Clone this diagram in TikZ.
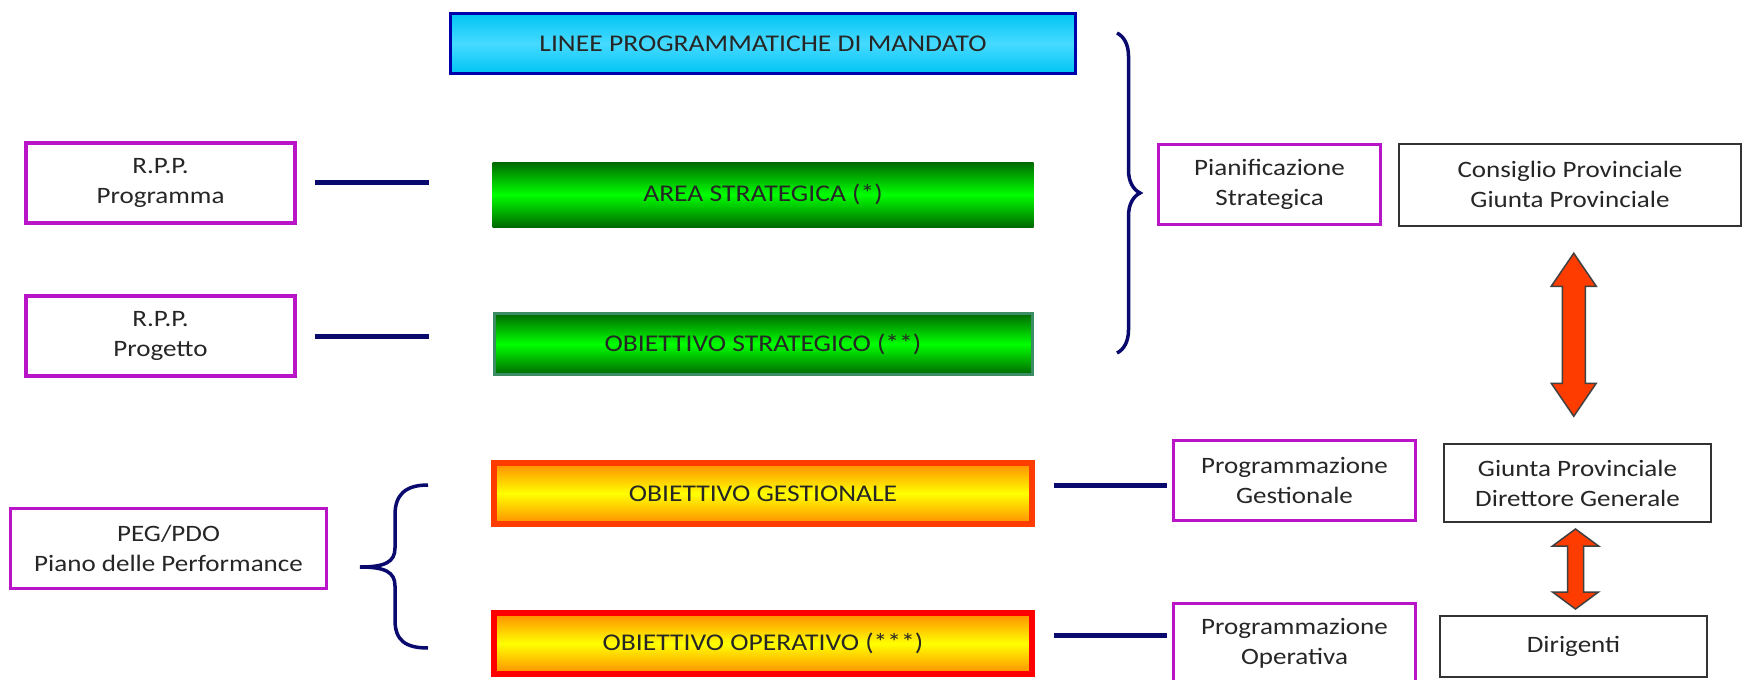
\documentclass[tikz,border=0pt]{standalone}
\usepackage{fontspec}
\setmainfont{Carlito}[FakeStretch=1.15]
\usetikzlibrary{positioning,calc,decorations.pathreplacing}

\definecolor{magbox}{RGB}{185,20,200}
\definecolor{navyline}{RGB}{10,10,110}
\definecolor{cyandark}{RGB}{0,196,245}
\definecolor{cyanlight}{RGB}{70,218,255}
\definecolor{bluebord}{RGB}{0,0,170}
\definecolor{grdark}{RGB}{0,105,0}
\definecolor{grlight}{RGB}{0,255,0}
\definecolor{tealbord}{RGB}{60,140,100}
\definecolor{ordark}{RGB}{255,140,0}
\definecolor{orlight}{RGB}{255,255,0}
\definecolor{orbord}{RGB}{255,60,0}
\definecolor{arrred}{RGB}{255,60,0}

\tikzset{
  basebox/.style={rectangle, align=center, outer sep=0pt, inner sep=0pt, text=black!85,
    font=\fontsize{23.5}{30}\selectfont},
  progbox/.style={basebox, draw=magbox, line width=3pt, minimum height=80pt},
  chartbox/.style={basebox, draw=black!80, line width=2pt},
  levelbox/.style={basebox, minimum width=538pt, minimum height=61pt, font=\fontsize{24}{28}\selectfont},
  greenbox/.style={levelbox, top color=grdark, bottom color=grdark, middle color=grlight},
  orangebox/.style={levelbox, line width=6pt, top color=ordark, bottom color=ordark, middle color=orlight},
  link/.style={draw=navyline, line width=5pt},
  brc/.style={draw=navyline, line width=3.5pt},
  fatarrow/.style={draw=black!75, fill=arrred, line width=1.5pt, line join=miter}
}

\begin{document}
\begin{tikzpicture}[x=1pt,y=1pt]
    \fill[white] (0,0) rectangle (1746,-680);
    \useasboundingbox (0,0) rectangle (1746,-680);

    % central column
    \node[levelbox, draw=bluebord, line width=3pt, minimum width=625pt, minimum height=60pt,
      top color=cyandark, bottom color=cyandark, middle color=cyanlight] (lin) at (763,-43.5) {LINEE PROGRAMMATICHE DI MANDATO};
    \node[greenbox, minimum width=541pt, minimum height=65pt, below=88.5pt of lin] (area) {AREA STRATEGICA (*)};
    \node[greenbox, draw=tealbord, line width=3pt, below=86.5pt of area] (strat) {OBIETTIVO STRATEGICO (**)};
    \node[orangebox, draw=orbord, below=88.5pt of strat] (gest) {OBIETTIVO GESTIONALE};
    \node[orangebox, draw=red, below=89pt of gest] (oper) {OBIETTIVO OPERATIVO (***)};

    % left column
    \node[progbox, line width=4pt, minimum width=269pt] (rppa) at (160.5,-182.5) {R.P.P.\\Programma};
    \node[progbox, line width=4pt, minimum width=269pt, below=73.5pt of rppa] (rppb) {R.P.P.\\Progetto};
    \node[progbox, minimum width=316pt] (peg) at (168.5,-548.5) {PEG/PDO\\Piano delle Performance};

    % right side
    \node[progbox, minimum width=222pt] (pstrat) at (1269.5,-184.5) {Pianificazione\\Strategica};
    \node[chartbox, minimum width=342pt, minimum height=82pt, right=18.5pt of pstrat] (cons) {Consiglio Provinciale\\Giunta Provinciale};
    \node[progbox, minimum width=242pt] (pgest) at (1294.5,-480.5) {Programmazione\\Gestionale};
    \node[progbox, minimum width=242pt, below=83pt of pgest] (poper) {Programmazione\\Operativa};
    \node[chartbox, minimum width=267pt, minimum height=78pt] (gdir) at (1577.5,-483) {Giunta Provinciale\\Direttore Generale};
    \node[chartbox, minimum width=267pt, minimum height=61pt] (dir) at (1573.5,-646.5) {Dirigenti};

    % double arrows between the boxes
    \coordinate (up) at ($(cons.south)!.5!(gdir.north)$);
    \coordinate (down) at ($(gdir.south)!.5!(dir.north)$);
    \draw[fatarrow] ($(up)+(0,81.5)$) -- ++(-22.5,-33) -- ++(11,0) -- ++(0,-97) -- ++(-11,0)
      -- ++(22.5,-33) -- ++(22.5,33) -- ++(-11,0) -- ++(0,97) -- ++(11,0) -- cycle;
    \draw[fatarrow] ($(down)+(0,40)$) -- ++(-23,-17) -- ++(15,0) -- ++(0,-46) -- ++(-15,0)
      -- ++(23,-17) -- ++(23,17) -- ++(-15,0) -- ++(0,46) -- ++(15,0) -- cycle;

    \draw[link, shorten <=20pt, shorten >=64pt] (rppa.east) -- (rppa.east -| area.west);
    \draw[link, shorten <=20pt, shorten >=65pt] (rppb.east) -- (rppb.east -| strat.west);
    \draw[link, shorten <=22pt, shorten >=7pt] ([yshift=8.5pt]gest.east) -- ([yshift=8.5pt]gest.east -| pgest.west);
    \draw[link, shorten <=22pt, shorten >=7pt] ([yshift=8.5pt]oper.east) -- ([yshift=8.5pt]oper.east -| poper.west);

    % braces
    \draw[brc, decorate, decoration={brace, amplitude=23pt}] (1117,-33) -- (1117,-353);
    \draw[brc] (428,-485) .. controls (405,-485) and (395,-495) .. (395,-515) -- (395,-548)
      .. controls (395,-562) and (385,-567) .. (360,-567)
      .. controls (385,-567) and (395,-572) .. (395,-586) -- (395,-620)
      .. controls (395,-640) and (405,-648) .. (428,-648);
\end{tikzpicture}
\end{document}
